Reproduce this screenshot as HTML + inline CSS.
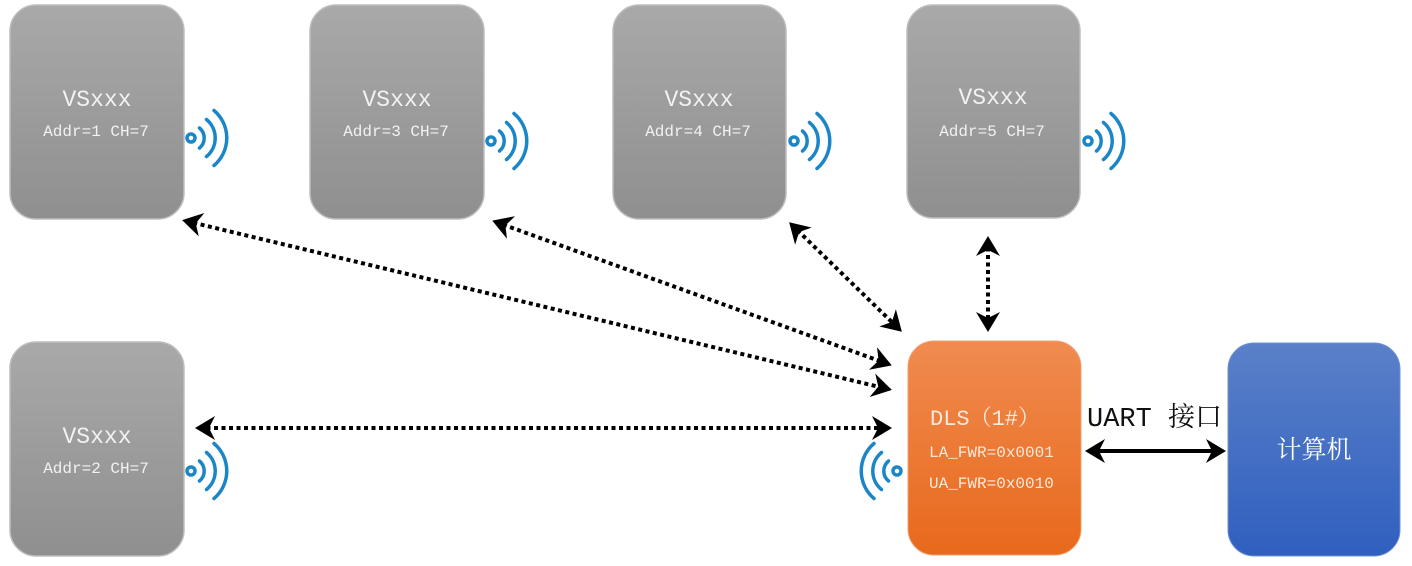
<!DOCTYPE html>
<html><head><meta charset="utf-8"><style>
body{margin:0;background:#fff;}
</style></head><body>
<svg width="1412" height="566" xmlns="http://www.w3.org/2000/svg" style="display:block">
<defs>
<linearGradient id="g" x1="0" y1="0" x2="0" y2="1"><stop offset="0" stop-color="#a9a9a9"/><stop offset="1" stop-color="#8f8f8f"/></linearGradient>
<linearGradient id="o" x1="0" y1="0" x2="0" y2="1"><stop offset="0" stop-color="#f08b50"/><stop offset="1" stop-color="#e8691c"/></linearGradient>
<linearGradient id="b" x1="0" y1="0" x2="0" y2="1"><stop offset="0" stop-color="#5a80c8"/><stop offset="1" stop-color="#2f5fbf"/></linearGradient>
<marker id="a" markerWidth="6" markerHeight="6" refX="4" refY="3" orient="auto-start-reverse" markerUnits="strokeWidth"><path d="M0,0 L5,3 L0,6 L1.5,3z" fill="#000"/></marker>
<g id="w" fill="none" stroke="#1a86c8" stroke-width="3.5" stroke-linecap="round">
<circle cx="0" cy="0" r="4"/>
<path d="M8.5,-10 A13,13 0 0 1 8.5,10"/>
<path d="M15.5,-18.5 A24,24 0 0 1 15.5,18.5"/>
<path d="M23,-27.5 A36,36 0 0 1 23,27.5"/>
</g>
</defs>
<g stroke="#bdbdbd" stroke-width="1.5">
<rect x="10" y="5" width="174" height="214" rx="26" fill="url(#g)"/>
<rect x="310" y="5" width="174" height="214" rx="26" fill="url(#g)"/>
<rect x="613" y="5" width="173" height="214" rx="26" fill="url(#g)"/>
<rect x="907" y="5" width="173" height="213" rx="26" fill="url(#g)"/>
<rect x="10" y="342" width="174" height="214" rx="26" fill="url(#g)"/>
</g>
<rect x="908" y="341" width="173" height="214" rx="26" fill="url(#o)" stroke="#f0a070"/>
<rect x="1228" y="343" width="172" height="213" rx="26" fill="url(#b)" stroke="#7090d0"/>
<g font-family="'Liberation Mono','Noto Serif CJK SC',monospace" fill="#f2f2f2" text-anchor="middle">
<text x="97" y="106" font-size="23">VSxxx</text><text x="96" y="136" font-size="16">Addr=1 CH=7</text>
<text x="397" y="106" font-size="23">VSxxx</text><text x="396" y="136" font-size="16">Addr=3 CH=7</text>
<text x="699" y="106" font-size="23">VSxxx</text><text x="698" y="136" font-size="16">Addr=4 CH=7</text>
<text x="993" y="104" font-size="23">VSxxx</text><text x="992" y="136" font-size="16">Addr=5 CH=7</text>
<text x="97" y="443" font-size="23">VSxxx</text><text x="96" y="473" font-size="16">Addr=2 CH=7</text>
</g>
<text x="1314" y="458" font-size="25" fill="#fff" text-anchor="middle" font-family="'Noto Serif CJK SC',serif">计算机</text>
<g font-family="'Liberation Mono','Noto Serif CJK SC',monospace" fill="#fbe9dc">
<text x="930" y="425" font-size="22">DLS（1#）</text>
<text x="929" y="457" font-size="16">LA_FWR=0x0001</text>
<text x="929" y="488" font-size="16">UA_FWR=0x0010</text>
</g>
<text x="1087" y="426" font-size="27" font-family="'Liberation Mono','Noto Serif CJK SC',monospace" fill="#111">UART 接口</text>
<use href="#w" x="191" y="138"/>
<use href="#w" x="491" y="141"/>
<use href="#w" x="794" y="141"/>
<use href="#w" x="1088" y="141"/>
<use href="#w" x="191" y="471"/>
<use href="#w" transform="translate(897,471) scale(-1,1)"/>
<g stroke="#000" stroke-width="4" stroke-dasharray="4 3.5" fill="none" marker-start="url(#a)" marker-end="url(#a)">
<line x1="186" y1="221" x2="888" y2="389"/>
<line x1="496" y1="222" x2="888" y2="364"/>
<line x1="792" y1="225" x2="899" y2="329"/>
<line x1="988" y1="240" x2="988" y2="328"/>
<line x1="199" y1="428" x2="888" y2="428"/>
</g>
<line x1="1089" y1="451" x2="1222" y2="451" stroke="#000" stroke-width="4" marker-start="url(#a)" marker-end="url(#a)"/>
</svg>
</body></html>
